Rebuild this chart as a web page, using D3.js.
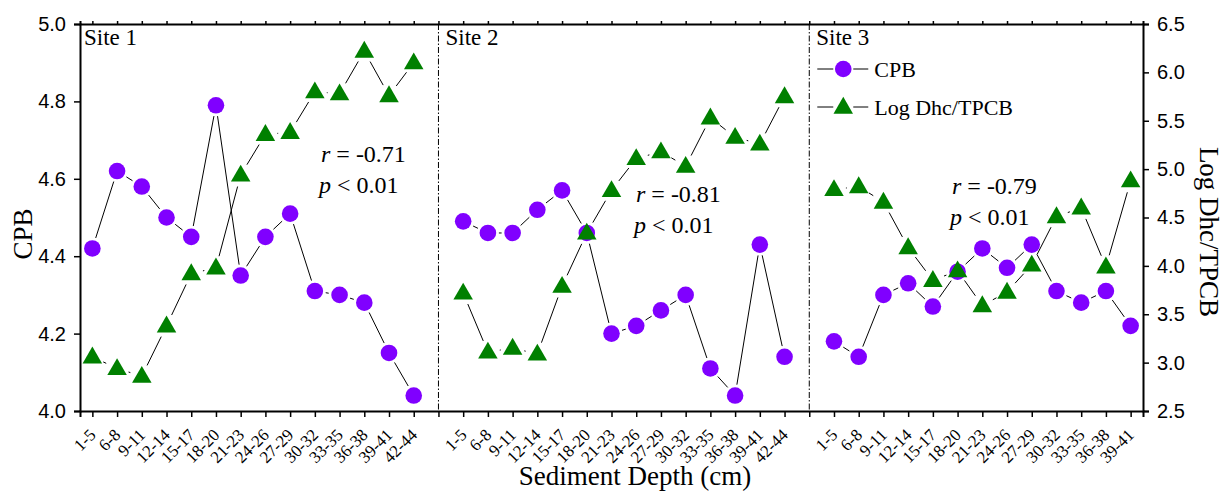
<!DOCTYPE html>
<html>
<head>
<meta charset="utf-8">
<script src="https://cdn.jsdelivr.net/npm/d3@7"></script>
<style>
  body { margin: 0; background: #fff; }
  svg text { fill: #000; }
  .serif { font-family: "Liberation Serif", "Times New Roman", serif; }
  .sans { font-family: "Liberation Sans", Arial, sans-serif; }
</style>
</head>
<body>
<div id="chart"></div>
<script>
// depth intervals (cm) for each site
var site1Depths = ['1-5','6-8','9-11','12-14','15-17','18-20','21-23','24-26','27-29','30-32','33-35','36-38','39-41','42-44'];
var site2Depths = ['1-5','6-8','9-11','12-14','15-17','18-20','21-23','24-26','27-29','30-32','33-35','36-38','39-41','42-44'];
var site3Depths = ['1-5','6-8','9-11','12-14','15-17','18-20','21-23','24-26','27-29','30-32','33-35','36-38','39-41'];

// CPB (left axis)
var site1CPB = [4.42, 4.62, 4.58, 4.50, 4.45, 4.79, 4.35, 4.45, 4.51, 4.31, 4.30, 4.28, 4.15, 4.04];
var site2CPB = [4.49, 4.46, 4.46, 4.52, 4.57, 4.46, 4.20, 4.22, 4.26, 4.30, 4.11, 4.04, 4.43, 4.14];
var site3CPB = [4.18, 4.14, 4.30, 4.33, 4.27, 4.36, 4.42, 4.37, 4.43, 4.31, 4.28, 4.31, 4.22];

// Log Dhc/TPCB (right axis)
var site1Dhc = [3.06, 2.94, 2.86, 3.38, 3.92, 3.98, 4.94, 5.36, 5.38, 5.80, 5.78, 6.22, 5.76, 6.10];
var site2Dhc = [3.72, 3.11, 3.15, 3.09, 3.79, 4.34, 4.78, 5.11, 5.18, 5.03, 5.53, 5.33, 5.26, 5.75];
var site3Dhc = [4.79, 4.82, 4.66, 4.19, 3.85, 3.95, 3.59, 3.73, 4.01, 4.51, 4.60, 3.99, 4.88];

var siteNames = ['Site 1', 'Site 2', 'Site 3'];
var rLabels = ['-0.71', '-0.81', '-0.79'];

var leftTicks = [4.0, 4.2, 4.4, 4.6, 4.8, 5.0];
var rightTicks = [2.5, 3.0, 3.5, 4.0, 4.5, 5.0, 5.5, 6.0, 6.5];

var cpbColor = '#8000ff';
var dhcColor = '#008000';

// put the three sites on one running x axis, with one empty slot between sites
var sites = [
    { name: siteNames[0], depths: site1Depths, cpb: site1CPB, dhc: site1Dhc, start: 0 },
    { name: siteNames[1], depths: site2Depths, cpb: site2CPB, dhc: site2Dhc, start: 15 },
    { name: siteNames[2], depths: site3Depths, cpb: site3CPB, dhc: site3Dhc, start: 30 }
];
var dividers = [14, 29];
var nSlots = 43;

var svgWidth = 1227;
var svgHeight = 492;
var margin = { top: 24, right: 84, bottom: 81, left: 80 };
var width = svgWidth - margin.left - margin.right;
var height = svgHeight - margin.top - margin.bottom;

var svg = d3.select('#chart')
    .append('svg')
    .attr('width', svgWidth)
    .attr('height', svgHeight);

var chartGroup = svg.append('g')
    .attr('transform', `translate(${margin.left}, ${margin.top})`);

// scales
var xScale = d3.scaleLinear()
    .domain([-0.5, nSlots - 0.5])
    .range([0, width]);

var yLeft = d3.scaleLinear()
    .domain([4.0, 5.0])
    .range([height, 0]);

var yRight = d3.scaleLinear()
    .domain([2.5, 6.5])
    .range([height, 0]);

// slot -> label lookup for the bottom axis
var slotLabels = {};
sites.forEach(function(s) {
    s.depths.forEach(function(d, i) { slotLabels[s.start + i] = d; });
});

// axes
var bottomAxis = d3.axisBottom(xScale)
    .tickValues(d3.range(0, nSlots))
    .tickSize(6)
    .tickFormat('');

var topAxis = d3.axisTop(xScale)
    .tickValues(d3.range(0, nSlots))
    .tickSize(3)
    .tickFormat('');

var leftAxis = d3.axisLeft(yLeft)
    .tickValues(leftTicks)
    .tickSize(6)
    .tickPadding(8)
    .tickFormat(d3.format('.1f'));

var rightAxis = d3.axisRight(yRight)
    .tickValues(rightTicks)
    .tickSize(6)
    .tickPadding(8)
    .tickFormat(d3.format('.1f'));

var gBottom = chartGroup.append('g')
    .attr('transform', `translate(0, ${height})`)
    .call(bottomAxis);

var gTop = chartGroup.append('g')
    .call(topAxis);

var gLeft = chartGroup.append('g')
    .call(leftAxis);

var gRight = chartGroup.append('g')
    .attr('transform', `translate(${width}, 0)`)
    .call(rightAxis);

[gBottom, gTop, gLeft, gRight].forEach(function(g) {
    g.select('.domain').attr('stroke', '#000').attr('stroke-width', 2);
    g.selectAll('.tick line').attr('stroke', '#000').attr('stroke-width', 1.5);
});

[gLeft, gRight].forEach(function(g) {
    g.selectAll('.tick text')
        .attr('class', 'sans')
        .attr('font-size', '20px')
        .attr('fill', '#000');
});

// rotated depth labels
gBottom.selectAll('.tick')
    .append('text')
    .attr('class', 'serif')
    .attr('font-size', '17px')
    .attr('fill', '#000')
    .attr('text-anchor', 'end')
    .attr('transform', 'translate(4, 25) rotate(-45)')
    .text(function(d) { return slotLabels[d] || ''; });

// dash-dot dividers between sites
chartGroup.selectAll('.divider')
    .data(dividers)
    .enter()
    .append('line')
    .attr('class', 'divider')
    .attr('x1', d => xScale(d))
    .attr('x2', d => xScale(d))
    .attr('y1', 0)
    .attr('y2', height)
    .attr('stroke', '#000')
    .attr('stroke-width', 1)
    .attr('stroke-dasharray', '6,2,1.5,2');

// connecting lines with a gap around each marker
function drawSegments(points, gap) {
    var segs = [];
    for (var i = 0; i < points.length - 1; i++) {
        var a = points[i], b = points[i + 1];
        var dx = b[0] - a[0], dy = b[1] - a[1];
        var len = Math.sqrt(dx * dx + dy * dy);
        if (len <= 2 * gap) continue;
        var ux = dx / len, uy = dy / len;
        segs.push([a[0] + ux * gap, a[1] + uy * gap, b[0] - ux * gap, b[1] - uy * gap]);
    }
    chartGroup.append('g')
        .selectAll('line')
        .data(segs)
        .enter()
        .append('line')
        .attr('x1', d => d[0])
        .attr('y1', d => d[1])
        .attr('x2', d => d[2])
        .attr('y2', d => d[3])
        .attr('stroke', '#000')
        .attr('stroke-width', 1);
}

var triangle = d3.symbol().type(d3.symbolTriangle).size(165);

sites.forEach(function(s) {
    var cpbPts = s.cpb.map((v, i) => [xScale(s.start + i), yLeft(v)]);
    var dhcPts = s.dhc.map((v, i) => [xScale(s.start + i), yRight(v)]);

    drawSegments(cpbPts, 11);
    drawSegments(dhcPts, 12);

    chartGroup.append('g')
        .selectAll('circle')
        .data(cpbPts)
        .enter()
        .append('circle')
        .attr('cx', d => d[0])
        .attr('cy', d => d[1])
        .attr('r', 8.3)
        .attr('fill', cpbColor);

    chartGroup.append('g')
        .selectAll('path')
        .data(dhcPts)
        .enter()
        .append('path')
        .attr('d', triangle)
        .attr('transform', d => `translate(${d[0]}, ${d[1] + 1})`)
        .attr('fill', dhcColor);
});

// site names, top-left of each panel
sites.forEach(function(s, k) {
    var x0 = k === 0 ? 4 : xScale(s.start - 1) + 7;
    chartGroup.append('text')
        .attr('class', 'serif')
        .attr('font-size', '23px')
        .attr('x', x0)
        .attr('y', 21)
        .text(s.name);
});

// correlation notes
var notePos = [[241, 138], [556, 178], [872, 170]];
notePos.forEach(function(p, k) {
    var t1 = chartGroup.append('text')
        .attr('class', 'serif')
        .attr('font-size', '24px')
        .attr('x', p[0])
        .attr('y', p[1]);
    t1.append('tspan').attr('font-style', 'italic').text('r');
    t1.append('tspan').text(' = ' + rLabels[k]);

    var t2 = chartGroup.append('text')
        .attr('class', 'serif')
        .attr('font-size', '24px')
        .attr('x', p[0] - 2)
        .attr('y', p[1] + 31);
    t2.append('tspan').attr('font-style', 'italic').text('p');
    t2.append('tspan').text(' < 0.01');
});

// legend
var legend = chartGroup.append('g')
    .attr('transform', `translate(${xScale(29) + 8}, 45)`);

var legendItems = [
    { label: 'CPB', color: cpbColor, shape: 'circle' },
    { label: 'Log Dhc/TPCB', color: dhcColor, shape: 'triangle' }
];

legendItems.forEach(function(item, i) {
    var row = legend.append('g').attr('transform', `translate(0, ${i * 38})`);
    row.append('line').attr('x1', 0).attr('x2', 16).attr('y1', 0).attr('y2', 0)
        .attr('stroke', '#000').attr('stroke-width', 1);
    row.append('line').attr('x1', 36).attr('x2', 51).attr('y1', 0).attr('y2', 0)
        .attr('stroke', '#000').attr('stroke-width', 1);
    if (item.shape === 'circle') {
        row.append('circle').attr('cx', 26).attr('cy', 0).attr('r', 8.3).attr('fill', item.color);
    } else {
        row.append('path').attr('d', triangle).attr('transform', 'translate(26, 1)').attr('fill', item.color);
    }
    row.append('text')
        .attr('class', 'serif')
        .attr('font-size', '22px')
        .attr('x', 57)
        .attr('y', 8)
        .text(item.label);
});

// axis titles
svg.append('text')
    .attr('class', 'serif')
    .attr('font-size', '27px')
    .attr('text-anchor', 'middle')
    .attr('transform', 'translate(32, 234) rotate(-90)')
    .text('CPB');

svg.append('text')
    .attr('class', 'serif')
    .attr('font-size', '27px')
    .attr('text-anchor', 'middle')
    .attr('transform', 'translate(1200, 232) rotate(90)')
    .text('Log Dhc/TPCB');

svg.append('text')
    .attr('class', 'serif')
    .attr('font-size', '27px')
    .attr('text-anchor', 'middle')
    .attr('x', 635)
    .attr('y', 485)
    .text('Sediment Depth (cm)');
</script>
</body>
</html>
